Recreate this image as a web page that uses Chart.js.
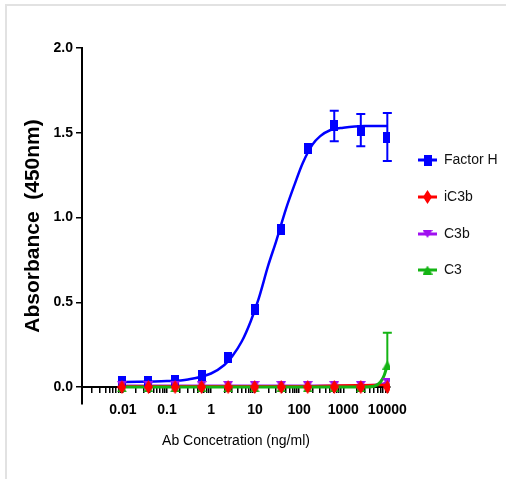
<!DOCTYPE html>
<html>
<head>
<meta charset="utf-8">
<script src="https://cdn.jsdelivr.net/npm/chart.js@4.4.1/dist/chart.umd.min.js"></script>
<style>
  html, body { margin: 0; padding: 0; background: #fff; }
  #frame { position: absolute; left: 5px; top: 4px; right: 0; bottom: 0; border-left: 2px solid #e2e2e2; border-top: 2px solid #e2e2e2; }
  #wrap { position: absolute; left: 0; top: 0; width: 506px; height: 479px; }
</style>
</head>
<body>
<div id="frame"></div>
<div id="wrap"><canvas id="chart" width="506" height="479"></canvas></div>
<script>
// concentrations (ng/ml), 4-fold dilution series
const concentrations = [0.0095, 0.038, 0.153, 0.61, 2.44, 9.77, 39.1, 156, 625, 2500, 10000];

// measured absorbance
const factorH = [0.03, 0.03, 0.04, 0.07, 0.177, 0.455, 0.93, 1.41, 1.54, 1.515, 1.475];
const factorHErr = [0, 0, 0, 0, 0, 0, 0, 0, 0.09, 0.095, 0.142];
const iC3b = [0.0, 0.0, 0.0, 0.0, 0.0, 0.0, 0.0, 0.0, 0.0, 0.0, 0.0];
const c3b = [0.012, 0.012, 0.012, 0.012, 0.012, 0.012, 0.012, 0.012, 0.012, 0.012, 0.03];
const c3 = [-0.005, -0.005, -0.005, -0.005, -0.005, -0.005, -0.005, -0.005, -0.005, -0.005, 0.13];
const c3ErrUp = [0, 0, 0, 0, 0, 0, 0, 0, 0, 0, 0.19];

// fitted curves
const factorHCurveX = [0.01, 0.1, 0.3, 1, 2, 3, 5, 8, 12, 20, 30, 50, 80, 120, 200, 300, 500, 1000, 3000, 10000];
const factorHCurveY = [0.03, 0.035, 0.045, 0.08, 0.13, 0.18, 0.27, 0.39, 0.52, 0.72, 0.86, 1.05, 1.2, 1.32, 1.43, 1.48, 1.515, 1.53, 1.54, 1.54];
const iC3bCurveX = [0.0095, 100, 500, 2000, 10000];
const iC3bCurveY = [0.004, 0.005, 0.008, 0.011, 0.012];
const c3bCurveX = [0.0095, 1000, 5000, 10000];
const c3bCurveY = [0.008, 0.008, 0.012, 0.025];
const c3CurveX = [0.0095, 3000, 5000, 7000, 8500, 10000];
const c3CurveY = [0.0, 0.0, 0.005, 0.03, 0.07, 0.13];

// axes
const xTickValues = [0.01, 0.1, 1, 10, 100, 1000, 10000];
const xTickLabels = ["0.01", "0.1", "1", "10", "100", "1000", "10000"];
const yTickValues = [0, 0.5, 1, 1.5, 2];

const seriesNames = ["Factor H", "iC3b", "C3b", "C3"];
const seriesColors = ["#0000ff", "#ff0000", "#a010f0", "#14b414"];

function makeMarker(shape, color, w, h) {
  const c = document.createElement("canvas");
  c.width = w; c.height = h;
  const g = c.getContext("2d");
  g.fillStyle = color;
  g.beginPath();
  if (shape === "rect") {
    g.rect(0, 0, w, h);
  } else if (shape === "diamond") {
    g.moveTo(w / 2, 0); g.lineTo(w, h / 2); g.lineTo(w / 2, h); g.lineTo(0, h / 2);
  } else if (shape === "down") {
    g.moveTo(0, 0); g.lineTo(w, 0); g.lineTo(w / 2, h);
  } else {
    g.moveTo(w / 2, 0); g.lineTo(w, h); g.lineTo(0, h);
  }
  g.closePath();
  g.fill();
  return c;
}

const markers = [
  makeMarker("rect", seriesColors[0], 8, 11),
  makeMarker("diamond", seriesColors[1], 9, 14),
  makeMarker("down", seriesColors[2], 10, 8),
  makeMarker("up", seriesColors[3], 10, 9)
];

const pts = (xs, ys) => xs.map((x, i) => ({ x: x, y: ys[i] }));

function pointSet(i, ys, order) {
  return {
    label: seriesNames[i],
    data: pts(concentrations, ys),
    showLine: false,
    pointStyle: markers[i],
    pointRadius: 5,
    order: order
  };
}

function curveSet(i, xs, ys, order, width) {
  return {
    label: seriesNames[i] + " fit",
    data: pts(xs, ys),
    showLine: true,
    borderColor: seriesColors[i],
    borderWidth: width,
    pointRadius: 0,
    cubicInterpolationMode: "monotone",
    order: order
  };
}

const errorBars = {
  id: "errorBars",
  afterDatasetsDraw(chart) {
    const { ctx, scales: { x, y } } = chart;
    const bars = [
      { vals: factorH, up: factorHErr, down: factorHErr, color: seriesColors[0] },
      { vals: c3, up: c3ErrUp, down: null, color: seriesColors[3] }
    ];
    ctx.save();
    ctx.lineWidth = 2;
    bars.forEach(b => {
      ctx.strokeStyle = b.color;
      b.vals.forEach((v, i) => {
        const px = x.getPixelForValue(concentrations[i]);
        const py = y.getPixelForValue(v);
        ctx.beginPath();
        if (b.up[i]) {
          const t = y.getPixelForValue(v + b.up[i]);
          ctx.moveTo(px, py); ctx.lineTo(px, t);
          ctx.moveTo(px - 4.5, t); ctx.lineTo(px + 4.5, t);
        }
        if (b.down && b.down[i]) {
          const d = y.getPixelForValue(v - b.down[i]);
          ctx.moveTo(px, py); ctx.lineTo(px, d);
          ctx.moveTo(px - 4.5, d); ctx.lineTo(px + 4.5, d);
        }
        ctx.stroke();
      });
    });
    ctx.restore();
  }
};

const sideLegend = {
  id: "sideLegend",
  afterDraw(chart) {
    const { ctx } = chart;
    const rows = [160, 197, 234, 270];
    ctx.save();
    ctx.font = "14px 'Liberation Sans', Arial, sans-serif";
    ctx.textBaseline = "middle";
    seriesNames.forEach((name, i) => {
      const y = rows[i];
      ctx.strokeStyle = seriesColors[i];
      ctx.lineWidth = 3;
      ctx.beginPath();
      ctx.moveTo(418, y); ctx.lineTo(437, y);
      ctx.stroke();
      const m = markers[i];
      ctx.drawImage(m, 427.5 - m.width / 2, y - m.height / 2);
      ctx.fillStyle = "#111";
      ctx.fillText(name, 444, y);
    });
    ctx.restore();
  }
};

// minor tick positions for the log axis
const xAllTicks = [];
for (let e = -3; e <= 4; e++) {
  for (let m = 1; m <= 9; m++) {
    const v = m * Math.pow(10, e);
    if (v >= 0.0019 && v <= 10001) xAllTicks.push(v);
  }
}

const sans = "'Liberation Sans', Arial, sans-serif";

new Chart(document.getElementById("chart"), {
  type: "scatter",
  data: {
    datasets: [
      pointSet(1, iC3b, 0),
      pointSet(2, c3b, 1),
      pointSet(3, c3, 2),
      pointSet(0, factorH, 3),
      curveSet(3, c3CurveX, c3CurveY, 4, 3),
      curveSet(1, iC3bCurveX, iC3bCurveY, 5, 2.5),
      curveSet(2, c3bCurveX, c3bCurveY, 6, 2.5),
      curveSet(0, factorHCurveX, factorHCurveY, 7, 2.5)
    ]
  },
  options: {
    responsive: false,
    animation: false,
    devicePixelRatio: 1,
    layout: { padding: { left: 0, right: 116, top: 48, bottom: 75 } },
    plugins: {
      legend: { display: false },
      tooltip: { enabled: false }
    },
    scales: {
      x: {
        type: "logarithmic",
        position: { y: 0 },
        min: 0.00118,
        max: 11500,
        afterBuildTicks: s => { s.ticks = xAllTicks.map(v => ({ value: v })); },
        ticks: {
          autoSkip: false,
          maxRotation: 0,
          padding: 10,
          color: "#000",
          font: { family: sans, size: 14, weight: "bold" },
          callback: v => {
            const k = xTickValues.findIndex(t => Math.abs(v / t - 1) < 1e-6);
            return k >= 0 ? xTickLabels[k] : "";
          }
        },
        grid: { drawOnChartArea: false, drawTicks: true, tickLength: 5, color: "#000", lineWidth: 1.5 },
        border: { display: true, color: "#000", width: 2 },
        title: {
          display: true,
          text: "Ab Concetration (ng/ml)",
          color: "#000",
          font: { family: sans, size: 14 },
          padding: { top: 4, bottom: 4 }
        }
      },
      y: {
        min: -0.1,
        max: 2.0,
        afterBuildTicks: s => { s.ticks = yTickValues.map(v => ({ value: v })); },
        afterFit: s => { s.width = 82; },
        ticks: {
          padding: 3,
          color: "#000",
          font: { family: sans, size: 14, weight: "bold" },
          callback: v => Number(v).toFixed(1)
        },
        grid: { drawOnChartArea: false, drawTicks: true, tickLength: 6, color: "#000", lineWidth: 1.5 },
        border: { display: true, color: "#000", width: 2 },
        title: {
          display: true,
          text: "Absorbance  (450nm)",
          color: "#000",
          font: { family: sans, size: 21, weight: "bold" },
          padding: { top: 21, bottom: 0 }
        }
      }
    }
  },
  plugins: [errorBars, sideLegend]
});
</script>
</body>
</html>
